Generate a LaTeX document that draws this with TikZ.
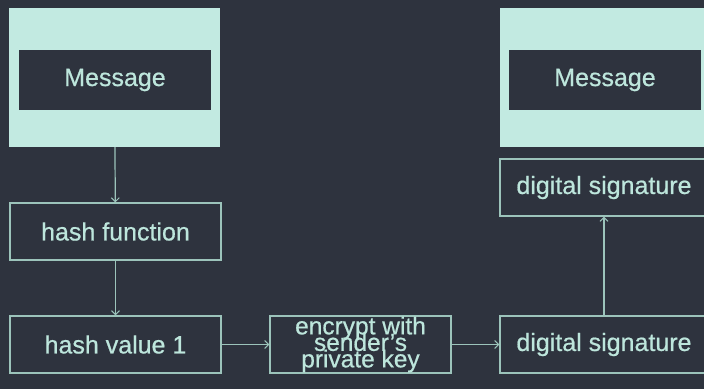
\documentclass[tikz,border=0pt]{standalone}
\usepackage{fontspec}
\setmainfont{Liberation Sans}[FakeBold=0.6]
\usepackage{tikz}
\usetikzlibrary{positioning, arrows.meta}
\definecolor{bgdark}{HTML}{2E333E}
\definecolor{mintfill}{HTML}{C2EAE1}
\definecolor{minttext}{HTML}{BDE6DC}
\definecolor{mintline}{HTML}{9CC4BB}

\begin{document}
\begin{tikzpicture}[x=1pt, y=-1pt,
  every node/.style={font=\fontsize{25}{28}\selectfont, text=minttext, inner sep=0pt},
  outerbox/.style={fill=mintfill, minimum width=211pt, minimum height=139pt},
  innerbox/.style={fill=bgdark, minimum width=192pt, minimum height=60pt},
  stepbox/.style={draw=mintline, line width=1.2pt, minimum height=57pt},
  flow/.style={draw=mintline, line width=1.2pt, -{Straight Barb[length=4pt, width=8pt, line width=1pt]}}]
\useasboundingbox[fill=bgdark] (0,0) rectangle (704,389);
% Define the nodes
\node[outerbox] (msgouterL) at (114.5, 77.5) {};
\node[innerbox] (msgL) at (115, 80) {Message};
\node[stepbox, minimum width=211pt] (hashfn) at (115.5, 231.5) {hash function};
\node[stepbox, minimum width=211pt] (hashval) at (115.5, 344.5) {hash value 1};
\node[stepbox, minimum width=181pt, align=center,
      font={\fontsize{24.5}{16.5}\selectfont\lineskiplimit=-50pt\relax}] (encrypt) at (360.5, 344.5) {encrypt with\\sender's\\private key};
\node[stepbox, minimum width=208pt] (sig) at (604, 344.5) {digital signature};
\node[stepbox, minimum width=208pt] (sigtop) at (604, 187.5) {digital signature};
\node[outerbox] (msgouterR) at (605, 77.5) {};
\node[innerbox] (msgR) at (605, 80) {Message};

% Draw the maps
\draw[flow] (msgouterL) -- (hashfn);
\draw[flow] (hashfn) -- (hashval);
\draw[flow] (hashval) -- (encrypt);
\draw[flow] (encrypt) -- (sig);
\draw[flow] (sig) -- (sigtop);
\end{tikzpicture}
\end{document}
